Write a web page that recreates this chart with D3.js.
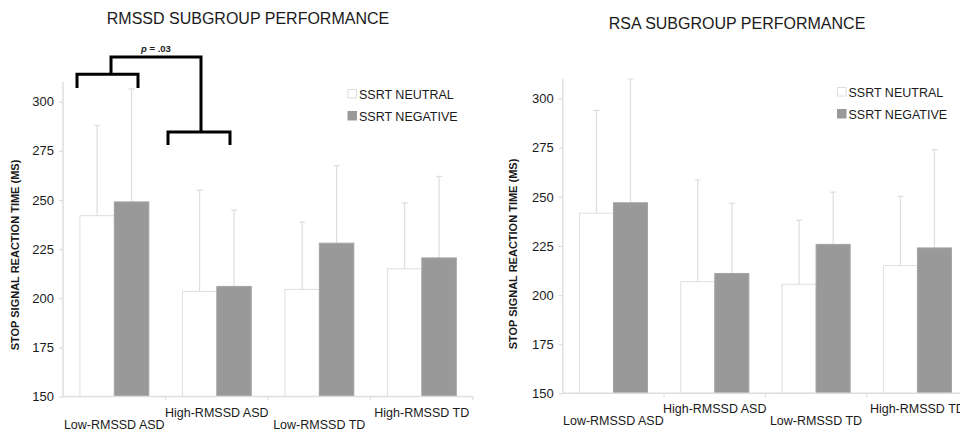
<!DOCTYPE html>
<html>
<head>
<meta charset="utf-8">
<script src="https://cdn.jsdelivr.net/npm/d3@7"></script>
<style>
  body { margin: 0; background: #fff; }
  svg text { font-family: "Liberation Sans", Arial, Helvetica, sans-serif; fill: #1a1a1a; }
</style>
</head>
<body>
<div id="canvas"></div>
<script>
"use strict"

let svgWidth = 960
let svgHeight = 431

/* data */
let series = ["SSRT NEUTRAL", "SSRT NEGATIVE"]
let yTicks = [150, 175, 200, 225, 250, 275, 300]

let rmssdGroups = ["Low-RMSSD ASD", "High-RMSSD ASD", "Low-RMSSD TD", "High-RMSSD TD"]
let rmssdNeutral = [242, 203.5, 204.5, 215]
let rmssdNegative = [249, 206, 228, 220.5]
let rmssdNeutralErr = [288, 255, 238.7, 248.5]
let rmssdNegativeErr = [306.5, 244.8, 267.5, 262]

let rsaGroups = ["Low-RMSSD ASD", "High-RMSSD ASD", "Low-RMSSD TD", "High-RMSSD TD"]
let rsaNeutral = [241.7, 206.8, 205.5, 215]
let rsaNegative = [247, 211, 225.8, 224]
let rsaNeutralErr = [294, 258.7, 238, 250.2]
let rsaNegativeErr = [310, 246.8, 252.4, 274]

let colors = {"SSRT NEUTRAL": "#ffffff", "SSRT NEGATIVE": "#999999"}
let lightGray = "#dedede"

let svg = d3.select("#canvas")
    .append("svg")
    .attr("width", svgWidth)
    .attr("height", svgHeight)

function drawPanel(p) {
   let g = svg.append("g")

   let yScale = d3.scaleLinear()
      .domain([150, 310])
      .range([p.bottom, p.top])

   let xScale = d3.scaleBand()
      .domain(p.groups)
      .range([p.left, p.right])

   let bw = xScale.bandwidth()
   let inner = d3.scaleBand()
      .domain(series)
      .range([bw * 0.165, bw * 0.837])

   /* title */
   g.append("text")
      .attr("x", p.titleX)
      .attr("y", p.titleY)
      .attr("text-anchor", "middle")
      .attr("font-size", "16px")
      .text(p.title)

   /* rows: one per group and series */
   let rows = []
   p.groups.forEach(function(grp, i) {
      rows.push({group: grp, s: series[0], v: p.neutral[i], e: p.neutralErr[i]})
      rows.push({group: grp, s: series[1], v: p.negative[i], e: p.negativeErr[i]})
   })

   /* error bars (behind the bars) */
   let cap = 3
   g.selectAll(".err")
      .data(rows)
      .join("path")
      .attr("class", "err")
      .attr("fill", "none")
      .attr("stroke", lightGray)
      .attr("stroke-width", 1.2)
      .attr("d", function(d) {
         let cx = xScale(d.group) + inner(d.s) + inner.bandwidth() / 2
         return "M" + cx + "," + yScale(d.v) + "V" + yScale(d.e) +
                "M" + (cx - cap) + "," + yScale(d.e) + "H" + (cx + cap)
      })

   /* bars */
   g.selectAll(".bar")
      .data(rows)
      .join("rect")
      .attr("class", "bar")
      .attr("x", d => xScale(d.group) + inner(d.s))
      .attr("y", d => yScale(d.v))
      .attr("width", inner.bandwidth())
      .attr("height", d => yScale(150) - yScale(d.v))
      .attr("fill", d => colors[d.s])
      .attr("stroke", d => d.s == series[0] ? lightGray : "#a3a3a3")
      .attr("stroke-width", 1)

   /* y axis */
   let yAxis = g.append("g")
      .attr("transform", "translate(" + p.left + ",0)")
      .call(d3.axisLeft(yScale).tickValues(yTicks).tickSize(4).tickPadding(5))
   yAxis.select(".domain").remove()
   yAxis.selectAll(".tick line").attr("stroke", lightGray).attr("stroke-width", 1.2)
   yAxis.selectAll(".tick text")
      .attr("font-size", "13px")
      .attr("fill", "#1a1a1a")
      .attr("font-family", "Liberation Sans, Arial, sans-serif")
   g.append("line")
      .attr("x1", p.left).attr("x2", p.left)
      .attr("y1", yScale(310)).attr("y2", yScale(150))
      .attr("stroke", lightGray).attr("stroke-width", 1.5)

   /* x axis */
   g.append("line")
      .attr("x1", p.left).attr("x2", p.right)
      .attr("y1", yScale(150)).attr("y2", yScale(150))
      .attr("stroke", lightGray).attr("stroke-width", 1.5)

   g.selectAll(".xtick")
      .data(p.groups.slice(1).concat(["end"]))
      .join("line")
      .attr("class", "xtick")
      .attr("x1", (d, i) => p.left + bw * (i + 1))
      .attr("x2", (d, i) => p.left + bw * (i + 1))
      .attr("y1", yScale(150))
      .attr("y2", yScale(150) + 4)
      .attr("stroke", lightGray).attr("stroke-width", 1.2)

   g.selectAll(".xlabel")
      .data(p.groups)
      .join("text")
      .attr("class", "xlabel")
      .attr("x", d => xScale(d) + bw / 2)
      .attr("y", (d, i) => yScale(150) + (i % 2 == 0 ? 32 : 20))
      .attr("text-anchor", "middle")
      .attr("font-size", "12.5px")
      .text(d => d)

   /* y label */
   g.append("text")
      .attr("transform", "translate(" + p.yLabelX + "," + p.yLabelY + ") rotate(-90)")
      .attr("text-anchor", "middle")
      .attr("font-size", "11px")
      .attr("font-weight", "bold")
      .text("STOP SIGNAL REACTION TIME (MS)")

   /* legend */
   series.forEach(function(s, i) {
      g.append("rect")
         .attr("x", p.legendX)
         .attr("y", p.legendY + i * 22)
         .attr("width", 8.5)
         .attr("height", 8.5)
         .attr("fill", colors[s])
         .attr("stroke", i == 0 ? lightGray : "#999")
      g.append("text")
         .attr("x", p.legendX + 11)
         .attr("y", p.legendY + 9 + i * 22)
         .attr("font-size", "12.5px")
         .text(s)
   })

   return {x: xScale, y: yScale, bw: bw}
}

let left = drawPanel({
   title: "RMSSD SUBGROUP PERFORMANCE", titleX: 248, titleY: 24,
   groups: rmssdGroups, neutral: rmssdNeutral, negative: rmssdNegative,
   neutralErr: rmssdNeutralErr, negativeErr: rmssdNegativeErr,
   left: 63, right: 473, top: 82, bottom: 396.5,
   yLabelX: 19, yLabelY: 255,
   legendX: 348, legendY: 89.5
})

drawPanel({
   title: "RSA SUBGROUP PERFORMANCE", titleX: 737, titleY: 29,
   groups: rsaGroups, neutral: rsaNeutral, negative: rsaNegative,
   neutralErr: rsaNeutralErr, negativeErr: rsaNegativeErr,
   left: 562.7, right: 968, top: 79, bottom: 393.3,
   yLabelX: 517, yLabelY: 254,
   legendX: 837.5, legendY: 87.5
})

/* significance brackets on the RMSSD panel */
let b0 = left.x(rmssdGroups[0])
let b1 = left.x(rmssdGroups[1])
let ly = left.y

let brackets = svg.append("g")
   .attr("fill", "none")
   .attr("stroke", "black")
   .attr("stroke-width", 3)
   .attr("stroke-linejoin", "miter")

brackets.append("path")
   .attr("d", "M" + (b0 + 14) + "," + ly(307) + "V" + ly(314) + "H" + (b0 + 75) + "V" + ly(307))
brackets.append("path")
   .attr("d", "M" + (b0 + 48) + "," + ly(314) + "V" + ly(322.7) + "H" + (b1 + 35.5) + "V" + ly(284.6))
brackets.append("path")
   .attr("d", "M" + (b1 + 2.5) + "," + ly(278) + "V" + ly(284.6) + "H" + (b1 + 64.5) + "V" + ly(278))

let pText = svg.append("text")
   .attr("x", 156)
   .attr("y", 52)
   .attr("text-anchor", "middle")
   .attr("font-size", "9.5px")
   .attr("font-weight", "bold")
pText.append("tspan").attr("font-style", "italic").text("p")
pText.append("tspan").text(" = .03")
</script>
</body>
</html>
